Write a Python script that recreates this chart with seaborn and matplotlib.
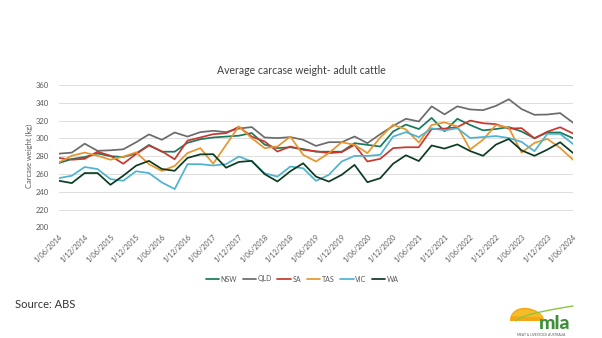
import numpy as np
import pandas as pd
import matplotlib
matplotlib.use("Agg")
import matplotlib.pyplot as plt
import seaborn as sns
from matplotlib.patches import Polygon
from matplotlib.lines import Line2D

# ---------------- data (quarterly, Jun 2014 .. Jun 2024) ----------------
quarters = [f"1/{m:02d}/{y}" for y in range(2014, 2025) for m in (3, 6, 9, 12)][1:42]
tick_labels = [q for q in quarters if q.split("/")[1] in ("06", "12")]

states = ["NSW", "QLD", "SA", "TAS", "VIC", "WA"]

nsw = [272.3, 276.8, 279, 283, 280, 279, 283, 292.6, 285, 285,
       295, 299, 301, 302, 303, 306, 293, 289, 290, 288,
       285, 285, 285, 294.6, 292.7, 290.8, 307.7, 315.5, 310.5, 323,
       308, 322, 315, 309, 310.5, 312.7, 307.7, 300.2, 306.6, 306.6, 300.2]
qld = [282.8, 284, 294, 286, 286.6, 287.7, 295.6, 304.5, 298.4, 306.6,
       302, 307, 308.5, 307, 311, 312.7, 301, 300.3, 301.4, 298.4,
       291.5, 295.7, 295.7, 302.1, 294.6, 304.7, 314, 322, 319, 336,
       327, 336, 332.5, 331.7, 336.5, 344, 332.9, 326.5, 326.8, 328.4, 317.7]
sa = [278, 276, 277, 285, 280.5, 271.5, 282.4, 292, 285.5, 276.5,
      297.5, 301, 304.7, 305.8, 313, 302, 296.5, 285.2, 290.8, 287.1,
      285.5, 283.4, 284.5, 292.7, 274, 277, 289, 290, 290, 310.5,
      311, 312.7, 320, 317, 316, 311, 311.5, 300, 307.5, 312.5, 305.5]
tas = [273, 280.5, 284, 280.5, 276, 279.4, 284.3, 271, 263.4, 269,
       283.5, 289, 271.5, 292.7, 313.4, 300.2, 289, 290.8, 302, 281.5,
       274, 283.4, 295.7, 292.7, 283.4, 301, 315.3, 310, 295.3, 315,
       318, 313.4, 287.5, 298.5, 315, 312, 284, 294.9, 299.4, 289.2, 276]
vic = [255.3, 258, 267.8, 265.5, 254.2, 252.3, 263, 261, 250.5, 243,
       271, 271, 269.5, 271, 279.6, 274, 260.8, 257, 268.3, 266.4,
       252.2, 259, 274, 280.3, 280.3, 281.5, 302, 307, 301.4, 311.3,
       309, 311.3, 300.4, 301.5, 302.6, 300.4, 296, 285.6, 305, 305, 293.7]
wa = [252.3, 249.7, 261, 261, 247.8, 258, 269.3, 274.7, 265.6, 263.5,
      278, 282, 282.2, 267, 273.5, 274.7, 259.8, 251.5, 263, 272,
      257, 251.4, 259, 270.2, 250.7, 255.2, 271.5, 281, 274.5, 292,
      288.5, 293.2, 285.7, 280.4, 293, 299.3, 286.5, 280.4, 287.3, 295.6, 283.6]

colors = {"NSW": "#17795B", "QLD": "#6B6B6B", "SA": "#C8382E",
          "TAS": "#E6952F", "VIC": "#4DB3D1", "WA": "#0D3B22"}

series = {"NSW": nsw, "QLD": qld, "SA": sa, "TAS": tas, "VIC": vic, "WA": wa}
df = pd.concat([pd.DataFrame({"pos": range(len(quarters)), "quarter": quarters,
                              "kg": vals, "state": s})
                for s, vals in series.items()], ignore_index=True)

# ---------------- style ----------------
sns.set_style("white")
plt.rcParams["font.family"] = ["Lato", "DejaVu Sans"]

W, H = 602, 338
fig = plt.figure(figsize=(W / 100, H / 100), dpi=100)

def fx(px):
    return px / W

def fy(py):
    return 1 - py / H

ax = fig.add_axes([fx(59), fy(227.3), fx(573) - fx(59), fy(85) - fy(227.3)])

sns.lineplot(data=df, x="pos", y="kg", hue="state", hue_order=states,
             palette=colors, linewidth=1.25, ax=ax, legend=False)

ax.set_xlim(0, len(quarters) - 1)
ax.set_ylim(200, 360)
ax.set_yticks(np.arange(200, 361, 20))
ax.set_xticks([i for i, q in enumerate(quarters) if q in tick_labels])
ax.set_xticklabels(tick_labels, rotation=45, ha="right",
                   rotation_mode="anchor", fontsize=5.2, color="#595959")
ax.tick_params(axis="y", labelsize=5.5, labelcolor="#595959", length=0, pad=7)
ax.tick_params(axis="x", length=0, pad=4)
ax.grid(axis="y", color="#DDDDDD", linewidth=0.7)
ax.grid(axis="x", visible=False)
ax.set_axisbelow(True)
for sp in ax.spines.values():
    sp.set_visible(False)
ax.set_xlabel("")
ax.set_ylabel("")

# title and axis label
fig.text(fx(301), fy(71), "Average carcase weight- adult cattle",
         ha="center", va="center", fontsize=7.6, color="#404040")
fig.text(fx(29), fy(156), "Carcase weight (kg)", rotation=90,
         ha="center", va="center", fontsize=5.4, color="#595959")

# legend
handles = [Line2D([0], [0], color=colors[s], lw=1.25) for s in states]
fig.legend(handles, states, loc="center", bbox_to_anchor=(fx(302), fy(279)),
           ncol=6, frameon=False, fontsize=5.0, handlelength=2.0,
           handletextpad=0.15, columnspacing=0.8, labelcolor="#595959")

# source
fig.text(fx(15), fy(304), "Source: ABS", ha="left", va="center",
         fontsize=8, color="#333333")

# mla logo
lg = fig.add_axes([fx(505), fy(338), fx(578) - fx(505), fy(300) - fy(338)])
lg.set_xlim(505, 578)
lg.set_ylim(338, 300)
lg.axis("off")
t = np.linspace(0, np.pi, 40)
dome = np.column_stack([527 + 17 * np.cos(t), 320 - 12 * np.sin(t) * (1 - 0.15 * np.cos(t))])
dome = np.vstack([dome, [[510, 321], [544, 321]]])
lg.add_patch(Polygon(dome, closed=True, facecolor="#F3A712", edgecolor="none"))
lg.add_patch(Polygon(dome[5:35] + [0, 1.5], closed=True,
                     facecolor="#F7C531", edgecolor="none", alpha=0.7))
sx = np.linspace(516, 573, 30)
sy = 321 - 15 * ((sx - 516) / 57) ** 0.6
lg.plot(sx, sy, color="#8CC63F", lw=1.0)
lg.text(555, 323, "mla", ha="center", va="center", fontsize=14,
        fontweight="black", color="#3F8E3A")
lg.text(541, 334.5, "MEAT & LIVESTOCK AUSTRALIA", ha="center", va="center",
        fontsize=2.3, color="#555555")

fig.savefig("out.png", dpi=100)
